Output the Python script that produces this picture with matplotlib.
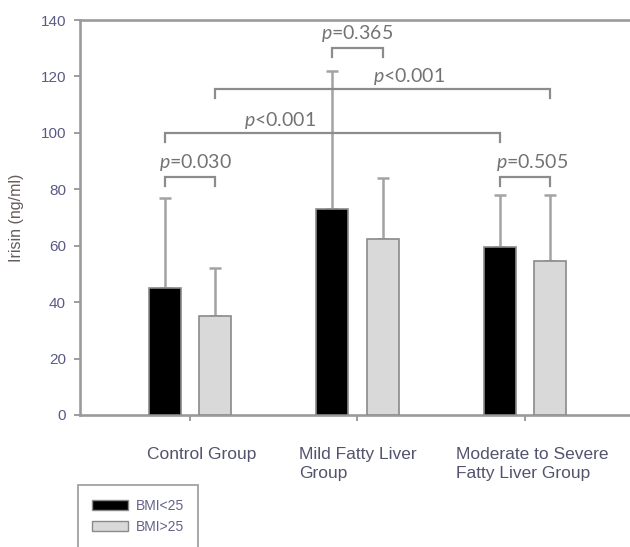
import matplotlib
matplotlib.use("Agg")
import matplotlib.pyplot as plt
from matplotlib.patches import Patch
from matplotlib.transforms import ScaledTranslation

# ---- data ----
groups = ["Control Group", "Mild Fatty Liver\nGroup", "Moderate to Severe\nFatty Liver Group"]
series_names = ["BMI<25", "BMI>25"]
bmi_lt25 = [45, 73, 59.5]
bmi_gt25 = [35, 62.5, 54.5]
sd_lt25 = [32, 49, 18.5]
sd_gt25 = [17, 21.5, 23.5]
yticks = [0, 20, 40, 60, 80, 100, 120, 140]
ylabel = "Irisin (ng/ml)"
# comparisons: (series_a, group_a, series_b, group_b, bracket height, label, label x, label y)
comparisons = [
    (0, 0, 1, 0, 84.5, "=0.030", 1.03, 89.5),
    (0, 1, 1, 1, 130.0, "=0.365", 2.0, 135.3),
    (0, 0, 0, 2, 100.0, "<0.001", 1.54, 104.5),
    (1, 0, 1, 2, 115.7, "<0.001", 2.31, 120.0),
    (0, 2, 1, 2, 84.5, "=0.505", 3.04, 89.5),
]

plt.rcParams['mathtext.fontset'] = 'custom'
plt.rcParams['mathtext.it'] = 'Lato:italic'
plt.rcParams['mathtext.rm'] = 'Lato'

fig = plt.figure(figsize=(6.3, 5.47), dpi=100)
ax = fig.add_axes([80/630, 1 - 415/547, 0.9, (415 - 20)/547])

x = [1, 2, 3]
off = 0.15
w = 0.19
xa = [v - off for v in x]
xb = [v + off for v in x]
edge = "#8a8a8a"
ax.bar(xa, bmi_lt25, width=w, color="black", edgecolor=edge, linewidth=1.2, zorder=3)
ax.bar(xb, bmi_gt25, width=w, color="#d9d9d9", edgecolor=edge, linewidth=1.2, zorder=3)
ecol = "#a3a3a3"
ax.errorbar(xa, bmi_lt25, yerr=[[0]*3, sd_lt25], fmt="none", ecolor=ecol,
            elinewidth=1.8, capsize=4.3, capthick=1.8, zorder=2)
ax.errorbar(xb, bmi_gt25, yerr=[[0]*3, sd_gt25], fmt="none", ecolor=ecol,
            elinewidth=1.8, capsize=4.3, capthick=1.8, zorder=2)

pos = [xa, xb]
lc = "#8c8c8c"
for sa, ga, sb, gb, h, lab, tx, ty in comparisons:
    x1 = pos[sa][ga]
    x2 = pos[sb][gb]
    leg = 3.2
    ax.plot([x1, x1, x2, x2], [h - leg, h, h, h - leg], color=lc, lw=1.6,
            solid_joinstyle="miter", zorder=4, clip_on=False)
    ax.text(tx, ty, r"$\mathit{p}$" + lab, ha="center", va="center",
            fontsize=14, color="#737373", family="Lato", zorder=5)

ax.set_xlim(1 + (80 - 190)/167.5, 1 + (80 + 0.9*630 - 190)/167.5)
ax.set_ylim(0, 140)
ax.set_yticks(yticks)
ax.set_xticks(x)
ax.set_xticklabels([])
label_shift_px = [12, 0, 7]
for gx, name, dx in zip(x, groups, label_shift_px):
    tr = ax.get_xaxis_transform() + ScaledTranslation(dx/100, -32/100, fig.dpi_scale_trans)
    ax.text(gx, 0, name, transform=tr, ha="center", va="top", multialignment="left",
            linespacing=1.3, fontsize=12.5, color="#53536e", family="Liberation Sans",
            clip_on=False)
for lbl in ax.get_yticklabels():
    lbl.set_fontsize(11)
    lbl.set_color("#5a5a86")
    lbl.set_family("Liberation Sans")
ax.tick_params(axis="y", direction="out", length=4, width=1.2, color="#8c8c8c", pad=6)
ax.tick_params(axis="x", direction="out", length=4, width=1.2, color="#8c8c8c")
for s in ["left", "top", "bottom"]:
    ax.spines[s].set_color("#9a9a9a")
    ax.spines[s].set_linewidth(1.9)
ax.spines["right"].set_visible(False)
ax.set_ylabel(ylabel, fontsize=11.5, color="#655d5a", family="Liberation Sans", labelpad=12)

handles = [Patch(facecolor="black", edgecolor=edge), Patch(facecolor="#d9d9d9", edgecolor=edge)]
lg = fig.legend(handles, series_names, loc="upper left", bbox_to_anchor=(78/630, 1 - 485/547),
                borderaxespad=0, frameon=True, fancybox=False,
                handlelength=2.6, handleheight=0.8, handletextpad=0.6, labelspacing=0.5,
                borderpad=1.0, prop={"family": "Liberation Sans", "size": 10})
lg.get_frame().set_edgecolor("#8a8a8a")
lg.get_frame().set_linewidth(1.3)
for t in lg.get_texts():
    t.set_color("#63638a")

fig.savefig("out.png", dpi=100)
